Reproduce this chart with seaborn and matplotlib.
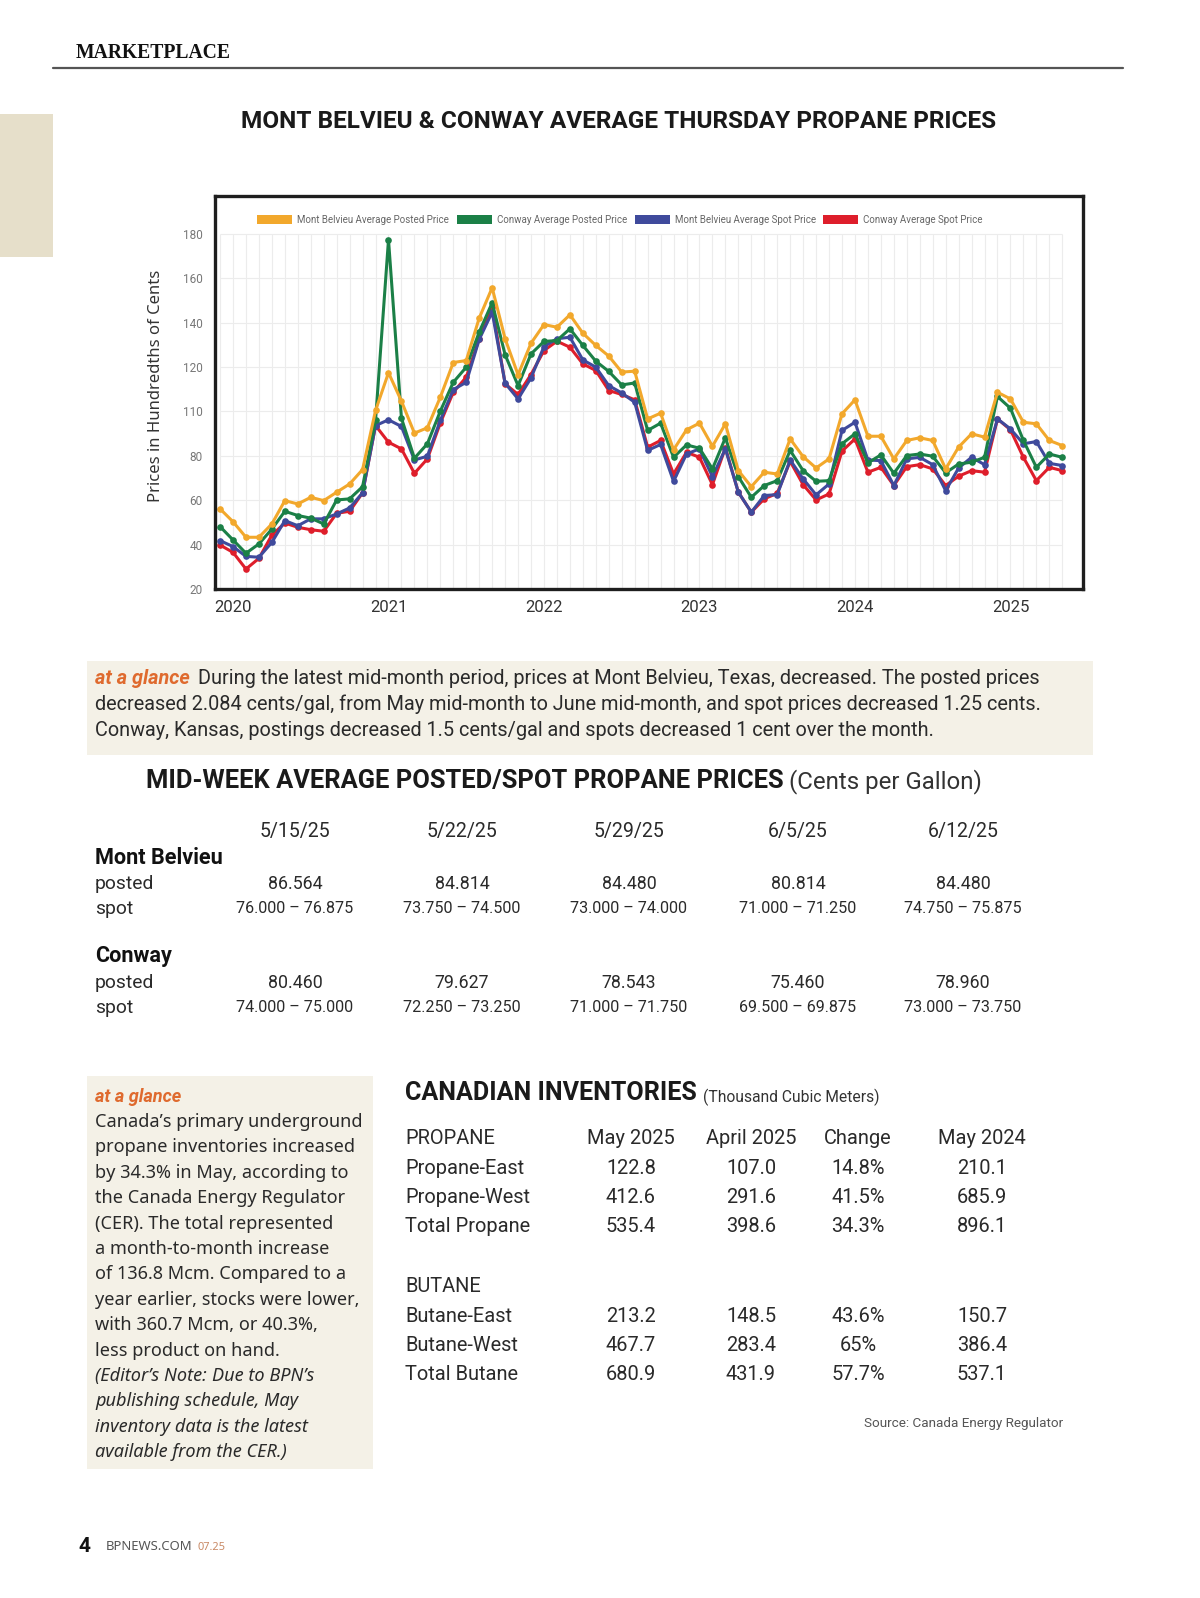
import numpy as np
import pandas as pd
import seaborn as sns
import matplotlib.pyplot as plt
from matplotlib.patches import Rectangle, Patch
from matplotlib.lines import Line2D
from matplotlib import font_manager

W, H = 1200, 1598

# ---- chart data (monthly, cents) ----
months = pd.date_range("2019-12-01", periods=66, freq="MS")
mb_posted = [56.1, 50.3, 43.3, 43.3, 49.3, 59.8, 58.3, 61.3, 59.8, 63.6,
             67.3, 73.8, 100.4, 117.4, 104.6, 90.2, 92.6, 106.4, 122.0, 122.9,
             142.0, 155.7, 132.7, 116.5, 130.7, 139.1, 137.9, 143.5, 135.2, 129.7,
             124.9, 117.7, 118.1, 96.6, 99.2, 82.7, 91.7, 94.7, 84.3, 94.4,
             73.3, 66.1, 72.6, 71.8, 87.6, 79.6, 74.5, 78.6, 98.9, 105.2,
             88.8, 88.8, 78.6, 86.9, 88.1, 86.9, 74.1, 83.9, 89.9, 88.4,
             108.6, 105.6, 95.1, 94.4, 86.9, 84.6]
conway_posted = [48.1, 42.1, 36.1, 40.3, 47.0, 55.0, 53.1, 51.9, 49.3, 60.1,
                 60.6, 66.1, 95.9, 177.3, 96.9, 78.9, 85.4, 100.1, 113.1, 119.9,
                 135.7, 148.9, 125.5, 111.6, 125.9, 131.5, 131.9, 137.2, 129.7, 122.6,
                 118.0, 111.9, 112.8, 91.4, 94.7, 79.3, 84.9, 83.4, 74.1, 88.1,
                 70.6, 61.3, 66.6, 68.8, 82.4, 73.3, 68.5, 68.8, 85.4, 89.9,
                 76.8, 80.4, 72.1, 80.1, 80.8, 79.8, 72.3, 76.3, 77.1, 79.3,
                 106.7, 101.4, 86.9, 74.8, 80.8, 79.3]
mb_spot = [41.8, 39.1, 34.7, 34.3, 41.0, 50.8, 48.5, 51.6, 51.6, 53.8,
           56.5, 63.3, 93.6, 96.2, 93.2, 78.1, 79.8, 95.9, 109.8, 113.1,
           132.4, 144.7, 112.7, 105.6, 115.1, 129.2, 132.7, 133.4, 123.2, 119.9,
           111.6, 108.3, 104.1, 82.4, 85.1, 68.5, 80.8, 83.1, 70.6, 83.1,
           63.6, 54.6, 62.1, 62.5, 78.1, 69.6, 62.4, 67.3, 91.4, 95.1,
           78.1, 77.8, 66.6, 78.6, 79.3, 76.0, 64.3, 74.5, 79.3, 76.0,
           96.6, 92.1, 85.4, 86.4, 76.6, 75.6]
conway_spot = [39.8, 36.5, 29.0, 33.8, 44.3, 49.7, 47.8, 46.7, 46.0, 54.1,
               55.0, 63.3, 93.6, 86.1, 83.1, 72.1, 78.6, 94.8, 108.6, 115.4,
               132.7, 147.0, 112.4, 107.6, 116.6, 127.4, 131.6, 128.9, 121.4, 118.4,
               109.4, 107.6, 105.2, 83.9, 86.9, 71.8, 81.6, 79.3, 67.0, 83.6,
               63.6, 54.6, 60.6, 63.1, 77.5, 67.0, 60.1, 62.8, 82.1, 87.6,
               72.6, 74.8, 66.6, 75.1, 76.0, 74.1, 66.6, 70.8, 73.3, 72.6,
               96.6, 91.7, 79.3, 68.8, 74.8, 73.3]
series_names = ["Mont Belvieu Average Posted Price", "Conway Average Posted Price",
                "Mont Belvieu Average Spot Price", "Conway Average Spot Price"]
series_colors = ["#F2A82C", "#1B8047", "#3F4A9C", "#DE1E2B"]
ytick_vals = [20, 40, 60, 80, 100, 120, 140, 160, 180]
ytick_labels = ["20", "40", "60", "80", "110", "120", "140", "160", "180"]

# ---- table data ----
dates = ["5/15/25", "5/22/25", "5/29/25", "6/5/25", "6/12/25"]
mb_posted_wk = ["86.564", "84.814", "84.480", "80.814", "84.480"]
mb_spot_wk = ["76.000 – 76.875", "73.750 – 74.500", "73.000 – 74.000", "71.000 – 71.250", "74.750 – 75.875"]
cw_posted_wk = ["80.460", "79.627", "78.543", "75.460", "78.960"]
cw_spot_wk = ["74.000 – 75.000", "72.250 – 73.250", "71.000 – 71.750", "69.500 – 69.875", "73.000 – 73.750"]

inv_cols = ["May 2025", "April 2025", "Change", "May 2024"]
propane_rows = ["Propane-East", "Propane-West", "Total Propane"]
propane_vals = [["122.8", "107.0", "14.8%", "210.1"],
                ["412.6", "291.6", "41.5%", "685.9"],
                ["535.4", "398.6", "34.3%", "896.1"]]
butane_rows = ["Butane-East", "Butane-West", "Total Butane"]
butane_vals = [["213.2", "148.5", "43.6%", "150.7"],
               ["467.7", "283.4", "65%", "386.4"],
               ["680.9", "431.9", "57.7%", "537.1"]]

glance1 = ["During the latest mid-month period, prices at Mont Belvieu, Texas, decreased. The posted prices",
           "decreased 2.084 cents/gal, from May mid-month to June mid-month, and spot prices decreased 1.25 cents.",
           "Conway, Kansas, postings decreased 1.5 cents/gal and spots decreased 1 cent over the month."]
glance2 = ["Canada’s primary underground", "propane inventories increased", "by 34.3% in May, according to",
           "the Canada Energy Regulator", "(CER). The total represented", "a month-to-month increase",
           "of 136.8 Mcm. Compared to a", "year earlier, stocks were lower,", "with 360.7 Mcm, or 40.3%,",
           "less product on hand."]
glance2_italic = ["Due to BPN’s", "publishing schedule, May", "inventory data is the latest",
                  "available from the CER.)"]

sns.set_theme(style="white")
names = {f.name for f in font_manager.fontManager.ttflist}
NARROW = "Liberation Sans Narrow" if "Liberation Sans Narrow" in names else "Roboto"
BODY = "Noto Sans" if "Noto Sans" in names else "DejaVu Sans"
plt.rcParams["font.family"] = [NARROW, "DejaVu Sans"]

fig = plt.figure(figsize=(12, 15.98), dpi=100)
fig.patch.set_facecolor("white")
TXT = "#2a2a2a"
ORANGE = "#DF6A2E"


def txt(x, y, s, size=12, ha="left", **kw):
    kw.setdefault("color", TXT)
    return fig.text(x / W, 1 - y / H, s, fontsize=size, ha=ha, va="center", **kw)


def fit(t, width):
    r = fig.canvas.get_renderer()
    bb = t.get_window_extent(r)
    t.set_fontsize(t.get_fontsize() * width / bb.width)
    return t.get_fontsize()


def right_px(t):
    r = fig.canvas.get_renderer()
    return t.get_window_extent(r).x1 / fig.dpi / fig.get_figwidth() * W


# page furniture
fig.add_artist(Line2D([53 / W, 1123 / W], [1 - 68 / H, 1 - 68 / H], color="#555555", lw=1.6))
fig.add_artist(Rectangle((0, 1 - 257 / H), 53 / W, 143 / H, color="#E6DFCA", lw=0))
fig.add_artist(Rectangle((87 / W, 1 - 755 / H), 1006 / W, 94 / H, color="#F4F1E7", lw=0))
fig.add_artist(Rectangle((87 / W, 1 - 1469 / H), 286 / W, 393 / H, color="#F4F1E7", lw=0))

fit(txt(76, 53, "MARKETPLACE", 13, family="Liberation Serif", weight="bold", color="#111"), 155)
fit(txt(619, 122, "MONT BELVIEU & CONWAY AVERAGE THURSDAY PROPANE PRICES", 20, ha="center",
        weight="bold", color="#1a1a1a"), 755)

# ---- line chart ----
df = pd.DataFrame({"idx": np.arange(len(months)), "month": months,
                   series_names[0]: mb_posted, series_names[1]: conway_posted,
                   series_names[2]: mb_spot, series_names[3]: conway_spot})
long = df.melt(id_vars=["idx", "month"], var_name="series", value_name="price")

ax = fig.add_axes([215 / W, 1 - 589 / H, (1083 - 215) / W, (589 - 196) / H])
ax.hlines(ytick_vals, df["idx"].min(), df["idx"].max(), color="#ececec", lw=0.8, zorder=0)
ax.vlines(df["idx"], 20, 180, color="#ececec", lw=0.8, zorder=0)
sns.lineplot(data=long, x="idx", y="price", hue="series", hue_order=series_names[::-1],
             palette=dict(zip(series_names, series_colors)), marker="o", markersize=4.8,
             markeredgewidth=0, linewidth=2.2, legend=False, ax=ax)
ax.set_xlim(-0.39, 66.6)
ax.set_ylim(20, 197)
ax.set_yticks(ytick_vals)
ax.set_yticklabels(ytick_labels)
jan = df[df["month"].dt.month == 1]
ax.set_xticks(jan["idx"])
ax.set_xticklabels(jan["month"].dt.year.astype(str))
ax.tick_params(axis="y", length=0, pad=9, labelsize=8.5, labelcolor="#777777")
ax.tick_params(axis="x", length=0, pad=8, labelsize=12, labelcolor="#333333")
ax.set_xlabel("")
ax.set_ylabel("")
for sp in ax.spines.values():
    sp.set_visible(True)
    sp.set_linewidth(2.4)
    sp.set_color("#1e1e1e")
txt(156, 386, "Prices in Hundredths of Cents", 12, ha="center", rotation=90, family=BODY, color="#333")
handles = [Patch(facecolor=c, edgecolor="none") for c in series_colors]
fig.legend(handles, series_names, loc="center", bbox_to_anchor=(620 / W, 1 - 220 / H), ncol=4,
           fontsize=7, frameon=False, handlelength=3.6, handleheight=1.1, handletextpad=0.5,
           columnspacing=0.8, labelcolor="#666666")

# ---- at a glance (top) ----
s1 = fit(txt(95, 704, glance1[1], 13), 946)
t = txt(95, 679, "at a glance", s1, weight="bold", style="italic", color=ORANGE)
txt(right_px(t) + 8, 679, glance1[0], s1)
txt(95, 730, glance1[2], s1)

# ---- mid-week table ----
t = txt(146, 781, "MID-WEEK AVERAGE POSTED/SPOT PROPANE PRICES", 20, weight="bold", color="#1a1a1a")
fit(t, 635)
x_after = right_px(t) + 5
fit(txt(x_after, 782, "(Cents per Gallon)", 18, color="#333"), 981 - x_after)

col_x = [295, 462, 629, 798, 963]
ref = txt(col_x[0], 909, mb_spot_wk[0], 13)
vs = fit(ref, 117)
ref.remove()
hs = fit(txt(col_x[0], 831, dates[0], 14, ha="center"), 71)
ps = fit(txt(95, 884, "posted", 13), 59)
bs = fit(txt(95, 858, "Mont Belvieu", 14, weight="bold", color="#111"), 128)
txt(95, 956, "Conway", bs, weight="bold", color="#111")
for lab, y in [("spot", 909), ("posted", 983), ("spot", 1008)]:
    txt(95, y, lab, ps)
for i, cx in enumerate(col_x):
    if i > 0:
        txt(cx, 831, dates[i], hs, ha="center")
    txt(cx, 884, mb_posted_wk[i], vs * 1.1, ha="center")
    txt(cx, 909, mb_spot_wk[i], vs, ha="center")
    txt(cx, 983, cw_posted_wk[i], vs * 1.1, ha="center")
    txt(cx, 1008, cw_spot_wk[i], vs, ha="center")

# ---- at a glance (bottom left) ----
t = txt(95, 1097, "at a glance", 13, weight="bold", style="italic", color=ORANGE)
bsz = fit(txt(95, 1122, glance2[0], 13, family=BODY), 268)
t.set_fontsize(bsz)
y = 1122
for line in glance2[1:]:
    y += 25.4
    txt(95, y, line, bsz, family=BODY)
y += 25.4
t = txt(95, y, "(Editor’s Note:", bsz, family=BODY, weight="bold", style="italic")
txt(right_px(t) + 5, y, glance2_italic[0], bsz, family=BODY, style="italic")
for line in glance2_italic[1:]:
    y += 25.4
    txt(95, y, line, bsz, family=BODY, style="italic")

# ---- Canadian inventories ----
t = txt(405, 1093, "CANADIAN INVENTORIES", 20, weight="bold", color="#1a1a1a")
fit(t, 292)
x_after = right_px(t) + 6
fit(txt(x_after, 1097, "(Thousand Cubic Meters)", 11, color="#333"), 879 - x_after)

inv_x = [631, 751, 858, 982]
rs = fit(txt(405, 1168, propane_rows[0], 14), 120)
txt(405, 1139, "PROPANE", rs)
txt(405, 1287, "BUTANE", rs)
for j, c in enumerate(inv_cols):
    txt(inv_x[j], 1139, c, rs, ha="center")
for rows, vals, y0 in [(propane_rows, propane_vals, 1168), (butane_rows, butane_vals, 1316)]:
    for k, (r, v) in enumerate(zip(rows, vals)):
        yy = y0 + k * 29.5
        if r != propane_rows[0]:
            txt(405, yy, r, rs)
        for j, val in enumerate(v):
            txt(inv_x[j], yy, val, rs, ha="center")
fit(txt(1063, 1423, "Source: Canada Energy Regulator", 10, ha="right", color="#555"), 199)

# footer
txt(78, 1546, "4", 15, weight="bold", color="#111")
t = txt(106, 1547, "BPNEWS.COM", 9, color="#555", family=BODY)
fit(t, 87)
fit(txt(right_px(t) + 5, 1547, "07.25", 9, color="#C98A66", family=BODY), 28)

fig.savefig("out.png", dpi=100)
